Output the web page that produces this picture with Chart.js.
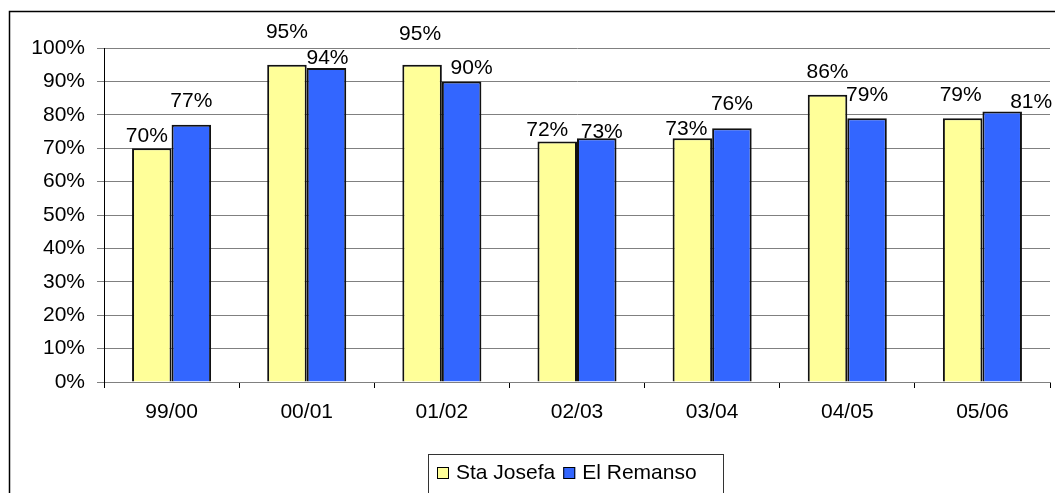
<!DOCTYPE html>
<html>
<head>
<meta charset="utf-8">
<title>Sta Josefa / El Remanso</title>
<script src="https://cdn.jsdelivr.net/npm/chart.js@4/dist/chart.umd.min.js"></script>
<style>
  html, body { margin: 0; padding: 0; background: #fff; }
  #wrap { width: 1055px; height: 493px; }
</style>
</head>
<body>
<div id="wrap"><canvas id="chart" width="1055" height="493"></canvas></div>
<script>
const SEASONS = ["99/00", "00/01", "01/02", "02/03", "03/04", "04/05", "05/06"];
const STA_JOSEFA = [70, 95, 95, 72, 73, 86, 79];
const EL_REMANSO = [77, 94, 90, 73, 76, 79, 81];
const Y_TICKS = [0, 10, 20, 30, 40, 50, 60, 70, 80, 90, 100];

// value labels are nudged per bar so neighbours don't collide
const LABEL_LIFT = [
  [12, 32, 30, 11, 9, 23, 23],
  [24, 10, 13, 6, 24, 23, 9],
];
const LABEL_SHIFT = [
  [-5, 0, -2, -10, -6, 0, -2],
  [0, 1, 10, 5, 0, 0, 29],
];

const FONT = { family: "'Liberation Sans', Arial, sans-serif", size: 21 };
const FONT_CSS = `${FONT.size}px ${FONT.family}`;

const valueLabels = {
  id: "valueLabels",
  afterDatasetsDraw(chart) {
    const ctx = chart.ctx;
    ctx.save();
    ctx.font = FONT_CSS;
    ctx.fillStyle = "#000";
    ctx.textAlign = "center";
    ctx.textBaseline = "middle";
    chart.data.datasets.forEach((ds, di) => {
      chart.getDatasetMeta(di).data.forEach((bar, i) => {
        const x = bar.x + LABEL_SHIFT[di][i];
        const y = bar.y - LABEL_LIFT[di][i];
        ctx.fillText(ds.data[i] + "%", x, y);
      });
    });
    ctx.restore();
  },
};

// boxed legend below the plot plus the outer chart frame
const frameAndLegend = {
  id: "frameAndLegend",
  afterDraw(chart) {
    const ctx = chart.ctx;
    ctx.save();
    ctx.strokeStyle = "#000";
    ctx.lineWidth = 1.5;
    ctx.beginPath();
    ctx.moveTo(9.5, 493);
    ctx.lineTo(9.5, 11.5);
    ctx.lineTo(1055, 11.5);
    ctx.stroke();

    ctx.lineWidth = 1;
    ctx.strokeStyle = "#333";
    ctx.strokeRect(428.5, 454.5, 295, 60);

    ctx.font = FONT_CSS;
    ctx.textBaseline = "middle";
    ctx.textAlign = "left";
    let x = 437;
    const cy = 473;
    chart.data.datasets.forEach(ds => {
      ctx.fillStyle = ds.backgroundColor;
      ctx.fillRect(x, cy - 6, 12, 12);
      ctx.strokeStyle = "#000";
      ctx.strokeRect(x + 0.5, cy - 5.5, 11, 11);
      x += 19;
      ctx.fillStyle = "#000";
      ctx.fillText(ds.label, x, cy);
      x += ctx.measureText(ds.label).width + 8;
    });
    ctx.restore();
  },
};

new Chart(document.getElementById("chart"), {
  type: "bar",
  data: {
    labels: SEASONS,
    datasets: [
      {
        label: "Sta Josefa",
        data: STA_JOSEFA,
        backgroundColor: "#FFFF99",
        borderColor: "#111",
        borderWidth: 2,
        borderSkipped: "bottom",
      },
      {
        label: "El Remanso",
        data: EL_REMANSO,
        backgroundColor: "#3366FF",
        borderColor: "#111",
        borderWidth: 2,
        borderSkipped: "bottom",
      },
    ],
  },
  options: {
    responsive: false,
    animation: false,
    devicePixelRatio: 1,
    layout: { padding: { top: 48, right: 5, bottom: 0, left: 0 } },
    datasets: { bar: { categoryPercentage: 0.585, barPercentage: 1 } },
    plugins: {
      legend: { display: false },
      tooltip: { enabled: false },
    },
    scales: {
      x: {
        offset: true,
        afterFit(scale) { scale.height = 111; },
        grid: {
          offset: true,
          drawOnChartArea: false,
          drawTicks: true,
          tickLength: 6,
          color: "#000",
        },
        border: { color: "#808080", width: 1 },
        ticks: { color: "#000", font: FONT, padding: 12, maxRotation: 0 },
      },
      y: {
        min: 0,
        max: 100,
        afterFit(scale) { scale.width = 104; },
        afterBuildTicks(scale) { scale.ticks = Y_TICKS.map(v => ({ value: v })); },
        grid: { color: "#808080", tickLength: 7, tickColor: "#808080" },
        border: { color: "#000", width: 1 },
        ticks: {
          color: "#000",
          font: FONT,
          padding: 12,
          callback: v => v + "%",
        },
      },
    },
  },
  plugins: [valueLabels, frameAndLegend],
});
</script>
</body>
</html>
